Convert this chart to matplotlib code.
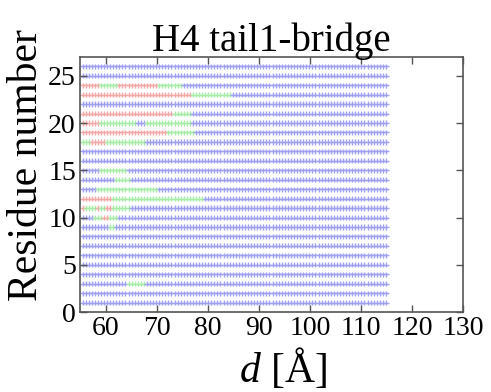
import numpy as np
import matplotlib
matplotlib.use("Agg")
import matplotlib.pyplot as plt

# ---- data ----
title = "H4 tail1-bridge"
xlabel_text = r"$d$ [Å]"
ylabel_text = "Residue number"
x_ticks = [60, 70, 80, 90, 100, 110, 120, 130]
y_ticks = [0, 5, 10, 15, 20, 25]
residues = list(range(1, 27))
# sampling positions of d (Å) along each row
d_values = np.round(np.arange(55.5, 115.3, 0.6), 2)

# non-blue segments per residue: (d_start, d_end, state)
segments = {
    24: [(55, 59, 'r'), (59, 62.5, 'g'), (62.5, 70.5, 'r'), (70.5, 75, 'g')],
    23: [(55, 77, 'r'), (77, 84.5, 'g')],
    21: [(55, 73, 'r'), (73, 77, 'g')],
    20: [(55, 59, 'r'), (59, 66, 'g'), (68, 77, 'g')],
    19: [(55, 72, 'r'), (72, 77.5, 'g')],
    18: [(55, 57, 'g'), (57, 60, 'r'), (60, 68, 'g')],
    15: [(59, 64, 'g')],
    14: [(62, 65, 'g')],
    13: [(58, 70, 'g')],
    12: [(55, 61, 'r'), (61, 79, 'g')],
    11: [(55, 56, 'r'), (56, 58, 'g'), (58, 59, 'r'), (59, 60, 'g'),
         (60, 61, 'r'), (61, 65, 'g')],
    10: [(57.5, 59.5, 'g'), (59.5, 60.5, 'r'), (60.5, 62.5, 'g')],
    9: [(60.4, 61.8, 'g')],
    3: [(64, 68, 'g')],
}

state_colors = {'b': '#a0a0f2', 'g': '#a6eba6', 'r': '#f5a8a8'}

# ---- build point table ----
xs, ys, cs = [], [], []
for r in residues:
    for d in d_values:
        st = 'b'
        for (a, b, s) in segments.get(r, []):
            if a <= d < b:
                st = s
        xs.append(d)
        ys.append(r)
        cs.append(state_colors[st])

plt.rcParams['font.family'] = ['Liberation Serif', 'DejaVu Serif']
plt.rcParams['mathtext.fontset'] = 'custom'
plt.rcParams['mathtext.it'] = 'Liberation Serif:italic'
plt.rcParams['mathtext.rm'] = 'Liberation Serif'

fig = plt.figure(figsize=(4.91, 3.92), dpi=100)
ax = fig.add_axes([0.163, 0.204, 0.780, 0.651])
ax.scatter(xs, ys, marker='+', s=14, c=cs, linewidths=1.0)

ax.set_xlim(55, 130)
ax.set_ylim(0, 27)
ax.set_xticks(x_ticks)
ax.set_yticks(y_ticks)
ax.tick_params(direction='in', length=5, width=1, colors='#555555',
               labelcolor='black', labelsize=20, top=True, right=True, pad=3)
for sp in ax.spines.values():
    sp.set_color('#555555')
    sp.set_linewidth(1.2)

ax.set_title(title, fontsize=28, pad=4)
ax.set_xlabel(xlabel_text, fontsize=30)
ax.set_ylabel(ylabel_text, fontsize=30)
ax.xaxis.set_label_coords(0.53, -0.135)
ax.yaxis.set_label_coords(-0.09, 0.575)

fig.savefig("out.png", dpi=100)
